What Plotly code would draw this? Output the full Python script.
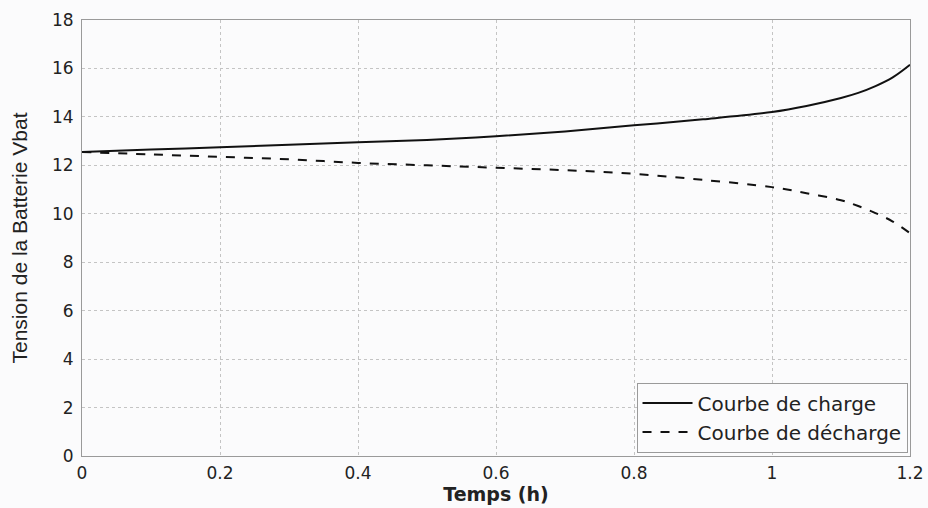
import plotly.graph_objects as go

temps = [0, 0.1, 0.2, 0.3, 0.4, 0.5, 0.6, 0.7, 0.8, 0.9, 1.0, 1.05, 1.1, 1.125, 1.15, 1.175, 1.2]
charge = [12.55, 12.65, 12.75, 12.85, 12.95, 13.05, 13.2, 13.4, 13.65, 13.9, 14.2, 14.45, 14.78, 14.99, 15.27, 15.63, 16.15]
decharge = [12.55, 12.45, 12.35, 12.25, 12.1, 12.0, 11.9, 11.8, 11.65, 11.4, 11.1, 10.85, 10.56, 10.32, 10.03, 9.68, 9.2]

x_ticks = [0, 0.2, 0.4, 0.6, 0.8, 1, 1.2]
x_labels = ["0", "0.2", "0.4", "0.6", "0.8", "1", "1.2"]
y_ticks = [0, 2, 4, 6, 8, 10, 12, 14, 16, 18]

wide_font = "DejaVu Sans, Verdana, sans-serif"
arial = "Liberation Sans, Arial, sans-serif"

fig = go.Figure()
fig.add_trace(go.Scatter(x=temps, y=charge, mode="lines", name="Courbe de charge",
                         line=dict(color="#111111", width=2, shape="spline", smoothing=1.0)))
fig.add_trace(go.Scatter(x=temps, y=decharge, mode="lines", name="Courbe de décharge",
                         line=dict(color="#111111", width=2, dash="dash", shape="spline", smoothing=1.0)))

axis_common = dict(
    showgrid=True, gridcolor="#c4c4c4", griddash="dot", gridwidth=1,
    showline=True, linecolor="#9a9a9a", linewidth=1, mirror=True,
    zeroline=False, ticks="", automargin=False,
    tickfont=dict(size=17, color="#222222", family=wide_font),
)

fig.update_layout(
    width=928, height=508,
    margin=dict(l=82, r=18, t=20, b=52),
    paper_bgcolor="#fbfbfc", plot_bgcolor="#fbfbfc",
    font=dict(family=arial, color="#222222"),
    xaxis=dict(range=[0, 1.2], tickvals=x_ticks, ticktext=x_labels,
               ticklabelstandoff=2,
               title=dict(text="<b>Temps (h)</b>", font=dict(size=19, family=wide_font), standoff=0),
               **axis_common),
    yaxis=dict(range=[0, 18], tickvals=y_ticks, ticklabelstandoff=4,
               title=dict(text="Tension de la Batterie Vbat", font=dict(size=21, family=arial), standoff=18),
               **axis_common),
    legend=dict(x=0.997, y=0.008, xanchor="right", yanchor="bottom",
                bgcolor="#fbfbfc", bordercolor="#9a9a9a", borderwidth=1,
                itemwidth=50, tracegroupgap=0,
                font=dict(size=20, color="#222222", family=wide_font)),
    showlegend=True,
)

fig.write_html("out.html")
